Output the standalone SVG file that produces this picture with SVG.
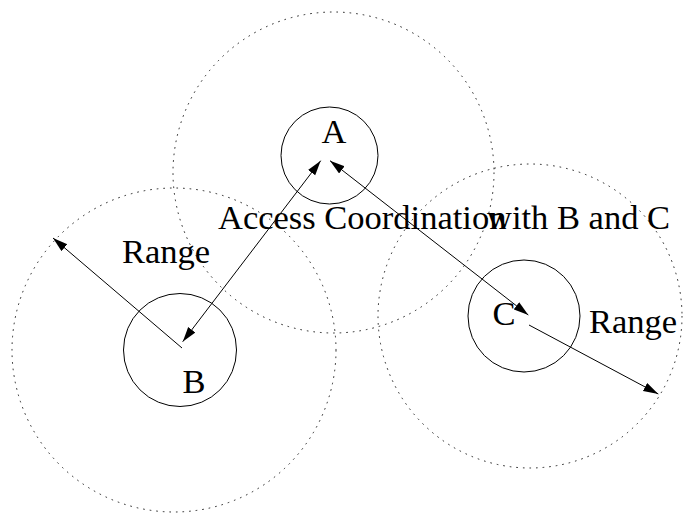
<svg xmlns="http://www.w3.org/2000/svg" width="686" height="513" viewBox="0 0 686 513">
  <style>
    .range { fill: none; stroke: #222; stroke-width: 1; stroke-dasharray: 1.6 5; }
    .node { fill: none; stroke: #000; stroke-width: 1; }
    .link { fill: none; stroke: #000; stroke-width: 1; }
    text { font-family: "Liberation Serif", "Times New Roman", serif; font-size: 34.5px; fill: #000; }
  </style>
  <defs>
    <marker id="head" markerUnits="userSpaceOnUse" markerWidth="16" markerHeight="10" refX="15" refY="4.5" orient="auto-start-reverse">
      <path d="M0,0 L15,4.5 L0,9 z" fill="#000"/>
    </marker>
  </defs>

  <!-- station A -->
  <g id="node-a">
    <circle class="range" cx="333.5" cy="172.5" r="160.5"/>
    <circle class="node" cx="329.5" cy="155.5" r="48.5"/>
    <text x="321.5" y="143">A</text>
  </g>

  <!-- station B -->
  <g id="node-b">
    <circle class="range" cx="174" cy="350" r="162"/>
    <circle class="node" cx="180" cy="350" r="56.5"/>
    <text x="182.5" y="393">B</text>
  </g>

  <!-- station C -->
  <g id="node-c">
    <circle class="range" cx="530" cy="316" r="152"/>
    <circle class="node" cx="524" cy="316" r="56"/>
    <text x="492.5" y="325">C</text>
  </g>

  <!-- arrows and their labels -->
  <g id="connectors">
    <line class="link" x1="320.7" y1="160.7" x2="182.7" y2="341.7" marker-start="url(#head)" marker-end="url(#head)"/>
    <line class="link" x1="330" y1="160.7" x2="528.3" y2="315" marker-start="url(#head)" marker-end="url(#head)"/>
    <line class="link" x1="182" y1="348" x2="53" y2="238" marker-end="url(#head)"/>
    <line class="link" x1="529" y1="325" x2="658.3" y2="394" marker-end="url(#head)"/>
    <text x="218" y="229">Access Coordination</text>
    <text x="487" y="229">with B and C</text>
    <text x="122" y="263">Range</text>
    <text x="589" y="333">Range</text>
  </g>
</svg>
